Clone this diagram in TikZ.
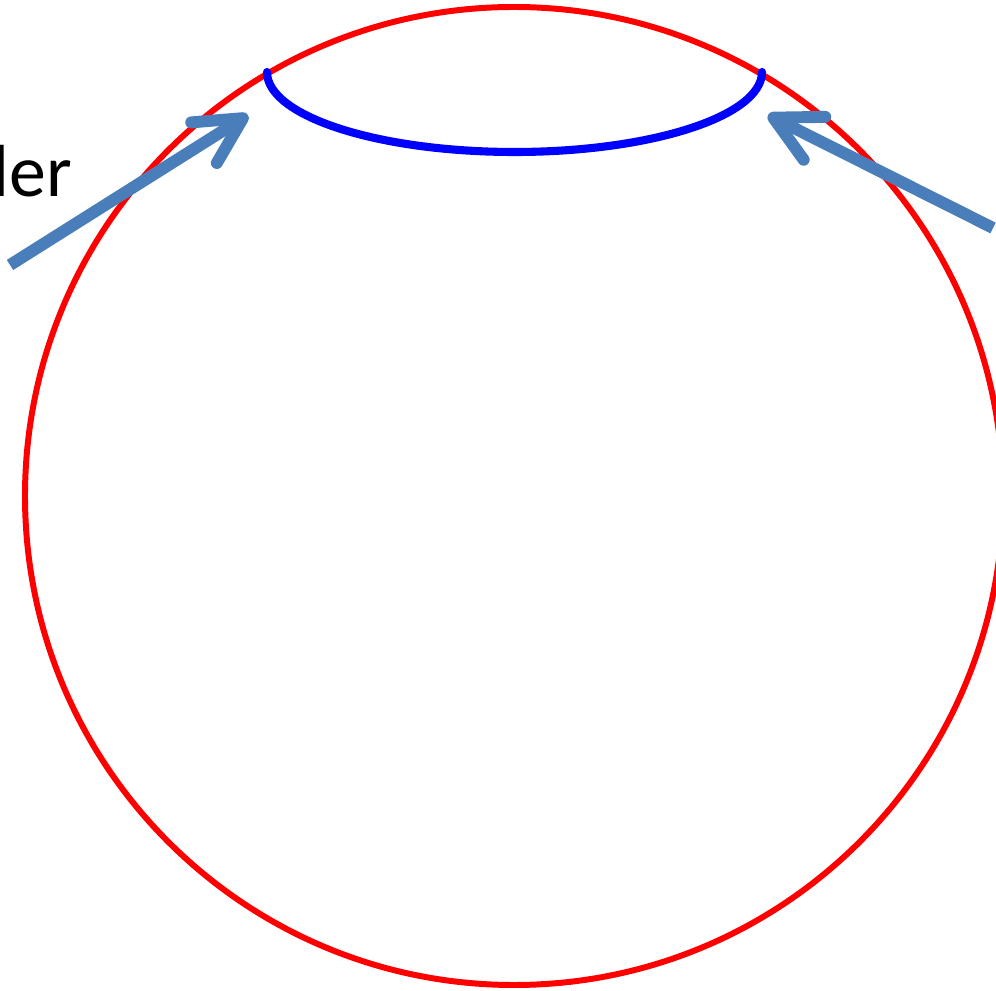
\documentclass[tikz,border=0pt]{standalone}
\usepackage{fontspec}
\setmainfont{Carlito}
\usetikzlibrary{arrows.meta}
\definecolor{arrowblue}{RGB}{74,126,187}

\begin{document}
\begin{tikzpicture}[
  ball/.style={draw=red, line width=1.7pt},
  rim/.style={draw=blue, line width=2.3pt, line cap=round},
  pointer/.style={draw=arrowblue, line width=3.4pt,
    -{Straight Barb[round, length=4.6mm, width=4.8mm]}},
  label/.style={font=\fontsize{21pt}{25pt}\selectfont, inner sep=0pt}
]
\useasboundingbox (0,0) rectangle (9.96,9.90);
\clip (0,0) rectangle (9.96,9.90);

\node (c) at (5.14,4.94) [circle, minimum size=9.78cm, inner sep=0pt, ball] {};
\draw[rim] (2.67,9.18) arc[start angle=180, end angle=360, x radius=2.475cm, y radius=0.80cm];

\node (txt) [label, anchor=base east] at (0.73,7.93) {ler};

\coordinate (ltail) at (0.10,7.25);
\coordinate (ltip) at (2.48,8.75);
\coordinate (rtail) at (9.93,7.62);
\coordinate (rtip) at (7.68,8.75);

\draw[pointer] (ltail) -- (ltip);
\draw[pointer] (rtail) -- (rtip);
\end{tikzpicture}
\end{document}
